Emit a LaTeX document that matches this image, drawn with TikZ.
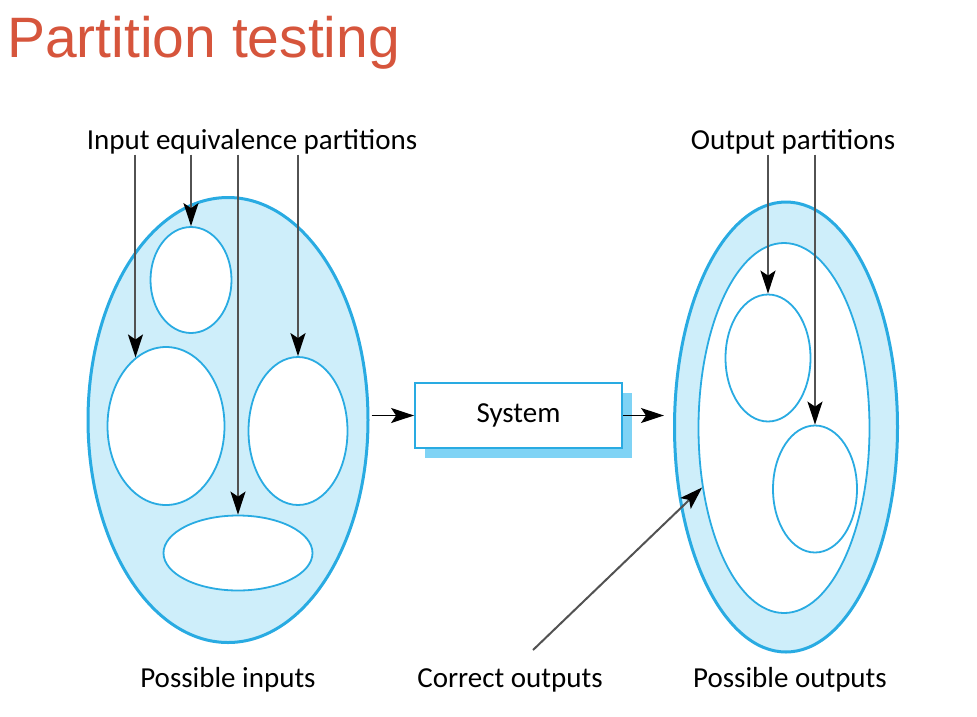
\documentclass[tikz,border=0pt]{standalone}
\usepackage{fontspec}
\setmainfont{Carlito}
\newfontfamily\titlefont{Liberation Sans}
\usetikzlibrary{shapes.geometric,arrows.meta,positioning,shadows}
\definecolor{slidered}{RGB}{214,85,60}
\definecolor{partblue}{RGB}{41,171,226}
\definecolor{partfill}{RGB}{206,238,250}
\definecolor{shadowblue}{RGB}{127,211,245}
\begin{document}
\begin{tikzpicture}[x=1pt,y=-1pt,>={Stealth[length=23pt,width=15pt,inset=5pt,color=black]},
  spacebox/.style={ellipse,draw=partblue,line width=3pt,fill=partfill,inner sep=0pt},
  part/.style={ellipse,draw=partblue,line width=1.8pt,fill=white,inner sep=0pt},
  lbl/.style={font=\fontsize{29}{32}\selectfont,inner sep=0pt},
  pointer/.style={->,draw=black!68,line width=2pt},
  flow/.style={->,line width=1.6pt}]
 \useasboundingbox (0,0) rectangle (977,716);
 \node[anchor=base west,inner sep=0pt,text=slidered,font=\titlefont\fontsize{57}{62}\selectfont] (title) at (7,57) {Partition testing};
 % inputs
 \node[spacebox,minimum width=280pt,minimum height=445pt] (inputs) at (228,420) {};
 \node[part,minimum width=81pt,minimum height=106pt] (pt) at (191,280) {};
 \node[part,minimum width=117pt,minimum height=158pt] (pl) at (166,426) {};
 \node[part,minimum width=99pt,minimum height=148pt] (pr) at (298,431) {};
 \node[part,minimum width=149pt,minimum height=75pt] (pb) at (238,553) {};
 \node[lbl] (inlab) at (252,142) {Input equivalence partitions};
 \node[lbl] (inposs) at (228,680) {Possible inputs};
 \draw[pointer] (inlab.south -| pl.114) -- (pl.114);
 \draw[pointer] (inlab.south -| pt.north) -- (pt.north);
 \draw[pointer] (inlab.south -| pb.north) -- (pb.north);
 \draw[pointer] (inlab.south -| pr.north) -- (pr.north);
 % system
 \node[draw=partblue,line width=1.8pt,fill=white,minimum width=207pt,minimum height=65pt,inner sep=0pt,lbl,
   copy shadow={shadow xshift=10pt,shadow yshift=-10pt,fill=shadowblue,draw=none}] (sys) at (518.5,415.5) {System};
 % outputs
 \node[spacebox,minimum width=223pt,minimum height=450pt] (outputs) at (786,427) {};
 \node[part,minimum width=171pt,minimum height=370pt] (correct) at (784,428) {};
 \node[part,minimum width=85pt,minimum height=127pt] (oa) at (768,358) {};
 \node[part,minimum width=84pt,minimum height=127pt] (ob) at (815,489) {};
 \node[lbl] (outlab) at (793,142) {Output partitions};
 \node[lbl] (corlab) at (510,680) {Correct outputs};
 \node[lbl] (outposs) at (790,680) {Possible outputs};
 \draw[pointer] (outlab.south -| oa.north) -- (oa.north);
 \draw[pointer] (outlab.south -| ob.north) -- (ob.north);
 \coordinate (corstart) at (533,650);
 \draw[pointer] (corstart) -- (correct.216);
 % flow
 \draw[flow] (sys.west -| inputs.east) ++(2,0) -- (sys.west);
 \draw[flow,shorten >=9pt] (sys.east) -- (sys.east -| outputs.west);
\end{tikzpicture}
\end{document}
